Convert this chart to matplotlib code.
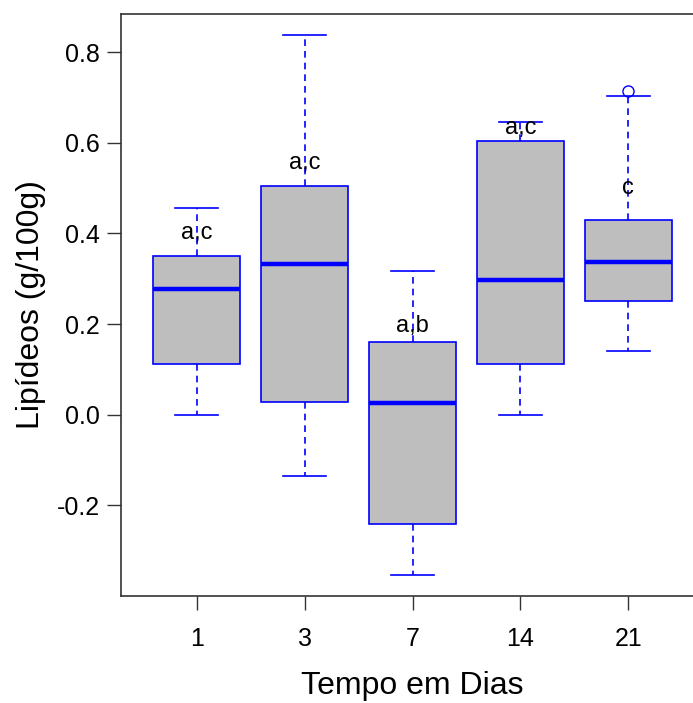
import matplotlib
matplotlib.use("Agg")
import matplotlib.pyplot as plt

plt.rcParams['font.family'] = ['Liberation Sans', 'DejaVu Sans']

days = ["1", "3", "7", "14", "21"]
whislo = [0.0, -0.134, -0.353, 0.0, 0.141]
q1 = [0.112, 0.029, -0.240, 0.112, 0.251]
med = [0.278, 0.333, 0.026, 0.298, 0.337]
q3 = [0.350, 0.505, 0.161, 0.604, 0.430]
whishi = [0.457, 0.837, 0.317, 0.646, 0.703]
fliers = [[], [], [], [], [0.714]]
letters = ["a,c", "a,c", "a,b", "a,c", "c"]
letter_y = [0.40, 0.555, 0.196, 0.632, 0.50]

fig = plt.figure(figsize=(6.93, 7.03), dpi=100)
W, H = 693, 703
left, right, top, bottom = 121, 704, 14, 596
ax = fig.add_axes([left / W, 1 - bottom / H, (right - left) / W, (bottom - top) / H])

stats = []
for i in range(len(days)):
    stats.append(dict(med=med[i], q1=q1[i], q3=q3[i], whislo=whislo[i],
                      whishi=whishi[i], fliers=fliers[i], label=days[i]))

blue = "#0000FF"
ax.bxp(stats, positions=range(1, len(days) + 1), widths=0.8, patch_artist=True,
       boxprops=dict(facecolor="#BEBEBE", edgecolor=blue, linewidth=1.2),
       medianprops=dict(color=blue, linewidth=3.2, solid_capstyle="butt"),
       whiskerprops=dict(color=blue, linewidth=1.2, linestyle=(0, (4, 3))),
       capprops=dict(color=blue, linewidth=1.2),
       capwidths=0.4,
       flierprops=dict(marker="o", markerfacecolor="none", markeredgecolor=blue,
                       markersize=8, markeredgewidth=1.0))

for i, (t, y) in enumerate(zip(letters, letter_y)):
    ax.text(i + 1, y, t, ha="center", va="center", fontsize=17)

ax.set_xlim(0.3, 5.7)
ax.set_ylim(-0.3996, 0.884)
ax.set_yticks([-0.2, 0.0, 0.2, 0.4, 0.6, 0.8])
ax.set_yticklabels(["-0.2", "0.0", "0.2", "0.4", "0.6", "0.8"])
ax.set_xticks(range(1, len(days) + 1))
ax.set_xticklabels(days)
ax.tick_params(axis="both", labelsize=18, length=10, width=1.0, colors="#333333",
               labelcolor="black")
ax.tick_params(axis="x", pad=12)
ax.tick_params(axis="y", pad=5)
for s in ax.spines.values():
    s.set_color("#333333")
    s.set_linewidth(1.2)

ax.set_xlabel("Tempo em Dias", fontsize=23, labelpad=15)
ax.set_ylabel("Lipídeos (g/100g)", fontsize=23, labelpad=8)

fig.savefig("out.png", dpi=100)
